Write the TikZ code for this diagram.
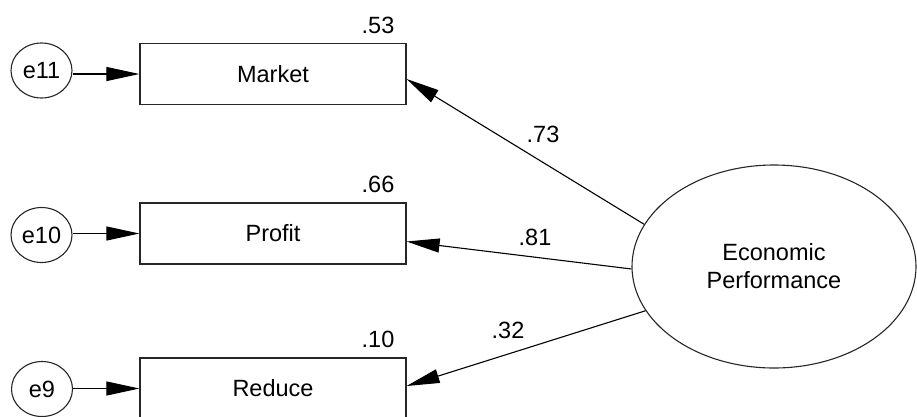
\documentclass[tikz,border=0pt]{standalone}
\usepackage{fontspec}
\setmainfont{Liberation Sans}
\usetikzlibrary{shapes.geometric,arrows.meta}
\begin{document}
\begin{tikzpicture}[x=1pt,y=-1pt,
  every node/.style={font=\fontsize{23.5}{28}\selectfont, text=black},
  obs/.style={draw=black!85, line width=1.2pt, minimum width=266pt, minimum height=61pt, inner sep=0pt},
  err/.style={draw=black!85, line width=1.1pt, ellipse, minimum width=61pt, minimum height=55pt, inner sep=0pt},
  lat/.style={draw=black!85, line width=1.1pt, ellipse, minimum width=284pt, minimum height=203pt, inner sep=0pt, align=center},
  path/.style={draw=black, line width=1.1pt, -{Triangle[length=33pt,width=14pt]}},
  lbl/.style={inner sep=0pt}]
\useasboundingbox (0,0) rectangle (917,416);
\node[obs] (market) at (273,74) {Market};
\node[obs] (profit) at (273,233.5) {Profit};
\node[obs] (reduce) at (273,388.5) {Reduce};
\node[err] (e11) at (41.5,70.5) {e11};
\node[err] (e10) at (41.5,235) {e10};
\node[err] (e9) at (42,389) {e9};
\node[lat] (ep) at (774,266.5) {Economic\\Performance};
\node[lbl] (r53) at (378,25) {.53};
\node[lbl] (r66) at (378,184) {.66};
\node[lbl] (r10) at (378,339) {.10};
\draw[path] (e11.east |- market.west) -- (market.west);
\draw[path] (e10.east |- profit.west) -- (profit.west);
\draw[path] (e9.east |- reduce.west) -- (reduce.west);
\draw[path] (ep.162.6) -- ([yshift=-5pt]market.east);
\draw[path] (ep.181) -- ([yshift=-8pt]profit.east);
\draw[path] (ep.199.3) -- ([yshift=2.5pt]reduce.east);
\node[lbl] (l73) at (543,134) {.73};
\node[lbl] (l81) at (535,237) {.81};
\node[lbl] (l32) at (508,330) {.32};
\end{tikzpicture}
\end{document}
